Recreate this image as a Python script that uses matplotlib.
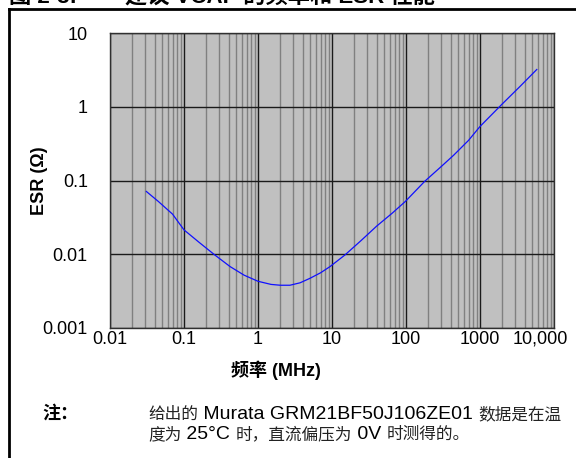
import numpy as np
import matplotlib.pyplot as plt
from matplotlib.ticker import LogLocator, NullFormatter, FixedLocator
from matplotlib.lines import Line2D
from matplotlib.transforms import ScaledTranslation

plt.rcParams['font.family'] = ['Liberation Sans', 'Noto Sans CJK SC']

# ESR curve (MHz, ohm)
freq = [0.031, 0.045, 0.07, 0.1, 0.16, 0.26, 0.42, 0.65, 1.0, 1.5, 2.0, 2.7,
        3.7, 5.0, 7.0, 9.4, 15, 25, 40, 65, 98, 180, 300, 440, 700, 1000,
        1960, 3500, 5850]
esr = [0.071, 0.052, 0.035, 0.0214, 0.0145, 0.0098, 0.0068, 0.0052, 0.0043,
       0.0039, 0.0038, 0.0038, 0.0041, 0.0047, 0.0056, 0.0068, 0.0098,
       0.0155, 0.024, 0.036, 0.052, 0.098, 0.155, 0.22, 0.35, 0.54, 1.07,
       1.9, 3.2]

xticks = [0.01, 0.1, 1, 10, 100, 1000, 10000]
xlabels = ['0.01', '0.1', '1', '10', '100', '1000', '10,000']
yticks = [0.001, 0.01, 0.1, 1, 10]
ylabels = ['0.001', '0.01', '0.1', '1', '10']

# note lines: (text, is_cjk)
note1 = [('给出的', True), (' Murata GRM21BF50J106ZE01 ', False), ('数据是在温', True)]
note2 = [('度为', True), (' 25°C ', False), ('时，直流偏压为', True), (' 0V ', False),
         ('时测得的。', True)]

fig = plt.figure(figsize=(5.76, 4.58), dpi=100)
ax = fig.add_axes([110/576, 1 - 328/458, 444/576, 295/458])
ax.set_facecolor('#c0c0c0')
ax.set_xscale('log')
ax.set_yscale('log')
ax.set_xlim(0.01, 10000)
ax.set_ylim(0.001, 10)

ax.xaxis.set_minor_locator(LogLocator(base=10, subs=np.arange(2, 10)))
ax.xaxis.set_minor_formatter(NullFormatter())
ax.yaxis.set_minor_locator(FixedLocator([]))
ax.grid(which='minor', axis='x', color='#808080', linewidth=1.0)
ax.grid(which='major', color='#1a1a1a', linewidth=1.0)

ax.plot(freq, esr, color='#1010ff', linewidth=0.9)

ax.set_xticks(xticks)
ax.set_xticklabels(xlabels, fontsize=13)
ax.set_yticks(yticks)
ax.set_yticklabels(ylabels, fontsize=13)
ax.tick_params(which='both', length=0)
ax.tick_params(axis='x', pad=2)
ax.tick_params(axis='y', pad=16)
# last label pulled left so it stays inside the picture
last = ax.get_xticklabels()[-1]
last.set_transform(last.get_transform() + ScaledTranslation(-0.14, 0, fig.dpi_scale_trans))
for s in ax.spines.values():
    s.set_color('#303030')
    s.set_linewidth(1.0)

ax.set_xlabel('频率 (MHz)', fontsize=13, fontweight='bold')
ax.xaxis.set_label_coords((276 - 110) / 444, (328 - 361) / 295)
ax.set_ylabel('ESR (Ω)', fontsize=13, fontweight='bold')
ax.yaxis.set_label_coords((48 - 110) / 444, 0.5)

# outer frame and clipped caption
fig.add_artist(Line2D([9/576, 9/576], [0, 1 - 9/458], color='black', lw=2))
fig.add_artist(Line2D([9/576, 1], [1 - 9/458, 1 - 9/458], color='black', lw=2))
fig.text(9/576, 1 - 3/458, '图 2-3:', fontsize=16, fontweight='bold', va='baseline')
fig.text(125/576, 1 - 3/458, '建议 VCAP 的频率和 ESR 性能', fontsize=16,
         fontweight='bold', va='baseline')

fig.text(42/576, 1 - 413/458, '注：', fontsize=13, fontweight='bold', va='center',
         family='Noto Sans CJK SC')

renderer = fig.canvas.get_renderer()


def mixed_line(pieces, x, y):
    # x, y in pixels from top-left; y is the baseline
    for txt, cjk in pieces:
        if cjk:
            t = fig.text(x / 576, 1 - y / 458, txt, fontsize=12, va='baseline',
                         family='Noto Sans CJK SC', color='#222222')
        else:
            t = fig.text(x / 576, 1 - y / 458, txt, fontsize=14, va='baseline',
                         family='Liberation Sans')
        x += t.get_window_extent(renderer).width


mixed_line(note1, 148, 419)
mixed_line(note2, 148, 439)

fig.savefig('out.png', dpi=100)
